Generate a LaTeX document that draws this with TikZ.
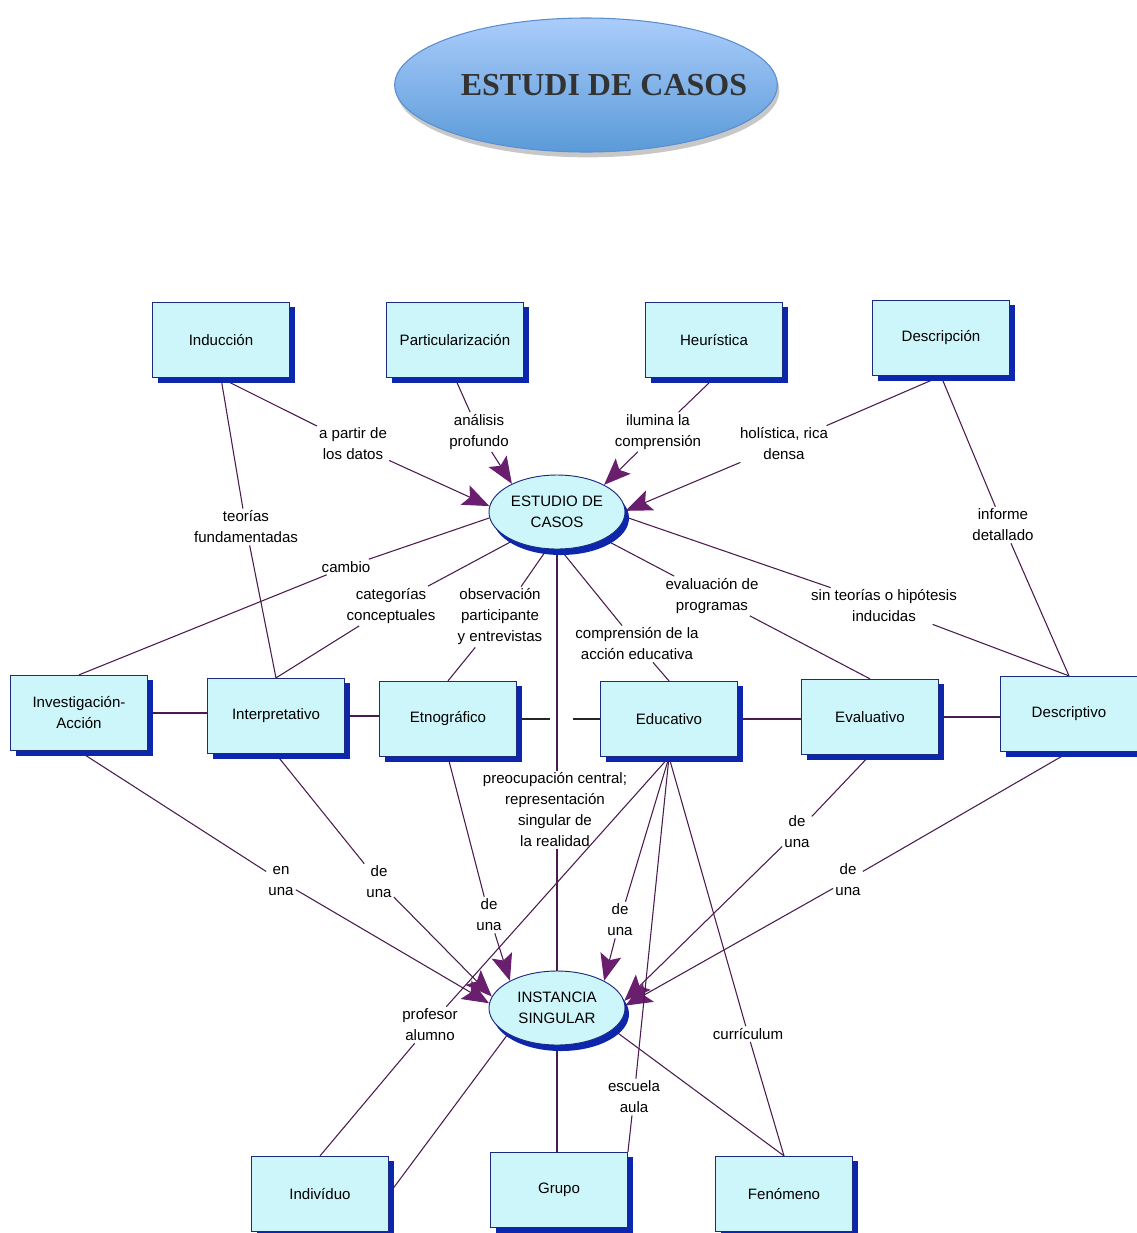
\documentclass[tikz,border=0pt]{standalone}
\usepackage{fontspec}
\setmainfont{Liberation Sans}
\newfontfamily\titlefont{Liberation Serif}
\usetikzlibrary{shapes.geometric,arrows.meta,shadows,backgrounds}

\definecolor{boxfill}{HTML}{CCF6FA}
\definecolor{boxline}{HTML}{1B2B80}
\definecolor{boxshadow}{HTML}{0C26AE}
\definecolor{linkc}{HTML}{4B1A4E}
\definecolor{arrowc}{HTML}{6A1F6E}
\definecolor{titletop}{HTML}{AACDFB}
\definecolor{titlebot}{HTML}{5A9AD8}
\definecolor{titleedge}{HTML}{5B8ED0}
\definecolor{titletext}{HTML}{333333}

\begin{document}
\begin{tikzpicture}[x=0.75pt,y=-0.75pt,
  every node/.style={font=\fontsize{11.3}{15.75}\selectfont},
  concept/.style={rectangle, draw=boxline, line width=0.7pt, fill=boxfill,
    minimum width=102.75pt, minimum height=56.5pt, align=center, inner sep=2pt,
    drop shadow={shadow xshift=3.75pt, shadow yshift=-3.75pt, fill=boxshadow, opacity=1}},
  focus/.style={ellipse, draw=boxline, line width=0.7pt, fill=boxfill,
    minimum width=102pt, minimum height=55.5pt, inner sep=0pt, align=center,
    drop shadow={shadow xshift=3pt, shadow yshift=-4.5pt, fill=boxshadow, opacity=1}},
  link/.style={align=center, inner sep=1.5pt},
  conn/.style={draw=linkc, line width=0.8pt},
  arr/.style={-{Stealth[length=20pt,width=16pt,inset=4pt,color=arrowc]}},
]
\useasboundingbox (0,0) rectangle (1137,1233);

% heading
\node[ellipse, draw=titleedge, line width=0.8pt, top color=titletop, bottom color=titlebot,
  minimum width=287pt, minimum height=100.5pt,
  drop shadow={shadow xshift=1.5pt, shadow yshift=-4pt, fill=black, opacity=0.22}]
  (titleshape) at (586,85) {};
\node[font=\titlefont\bfseries\fontsize{24}{28}\selectfont, text=titletext] (title) at (604,85) {ESTUDI DE CASOS};

% concepts, top row
\node[concept] (Ind)  at (221,340) {Inducción};
\node[concept] (Part) at (455,340) {Particularización};
\node[concept] (Heu)  at (714,340) {Heurística};
\node[concept] (Desc) at (941,338) {Descripción};

% central ellipses
\node[focus] (ES) at (557,512)  {ESTUDIO DE\\CASOS};
\node[focus] (IS) at (557,1008) {INSTANCIA\\SINGULAR};

% middle row
\node[concept] (InvAcc)  at (79,713)   {Investigación-\\Acción};
\node[concept] (Interp)  at (276,716)  {Interpretativo};
\node[concept] (Etno)    at (448,719)  {Etnográfico};
\node[concept] (Educ)    at (669,719)  {Educativo};
\node[concept] (Evalu)   at (870,717)  {Evaluativo};
\node[concept] (Descrip) at (1069,714) {Descriptivo};

% bottom row
\node[concept] (Indiv) at (320,1194) {Indivíduo};
\node[concept] (Grupo) at (559,1190) {Grupo};
\node[concept] (Fen)   at (784,1194) {Fenómeno};

% linking phrases
\node[link] (l1)  at (353,444)  {a partir de\\los datos};
\node[link] (l2)  at (479,432)  {análisis\\profundo};
\node[link] (l3)  at (658,432)  {ilumina la\\comprensión};
\node[link] (l4)  at (784,444)  {holística, rica\\densa};
\node[link] (l5)  at (246,527)  {teorías\\fundamentadas};
\node[link] (l6)  at (1003,525) {informe\\detallado};
\node[link] (l7)  at (346,567)  {cambio};
\node[link] (l8)  at (391,606)  {categorías\\conceptuales};
\node[link] (l9)  at (500,617)  {observación\\participante\\y entrevistas};
\node[link] (l10) at (637,644)  {comprensión de la\\acción educativa};
\node[link] (l11) at (712,596)  {evaluación de\\programas};
\node[link] (l12) at (884,606)  {sin teorías o hipótesis\\inducidas};
\node[link] (l13) at (555,810)  {preocupación central;\\representación\\singular de\\la realidad};
\node[link] (l14) at (281,881)  {en\\una};
\node[link] (l15) at (379,882)  {de\\una};
\node[link] (l16) at (489,915)  {de\\una};
\node[link] (l17) at (620,920)  {de\\una};
\node[link] (l18) at (797,832)  {de\\una};
\node[link] (l19) at (848,880)  {de\\una};
\node[link] (l20) at (430,1025) {profesor\\alumno};
\node[link] (l21) at (634,1097) {escuela\\aula};
\node[link] (l22) at (748,1034) {currículum};

\begin{scope}[on background layer]
  % top concepts into ESTUDIO DE CASOS
  \draw[conn] (Ind.south) -- (l1);   \draw[conn,arr] (l1) -- (ES.175);
  \draw[conn] (Part.south) -- (l2);  \draw[conn,arr] (l2) -- (ES.148);
  \draw[conn] (Heu.south) -- (l3);   \draw[conn,arr] (l3) -- (ES.30);
  \draw[conn] (Desc.south) -- (l4);  \draw[conn,arr] (l4) -- (ES.1);
  \draw[conn] (Ind.south) -- (l5);   \draw[conn] (l5) -- (Interp.north);
  \draw[conn] (Desc.south) -- (l6);  \draw[conn] (l6) -- (Descrip.north);

  % ESTUDIO DE CASOS to the types
  \draw[conn] (ES.185) -- (l7);  \draw[conn] (l7) -- (InvAcc.north);
  \draw[conn] (ES.213) -- (l8);  \draw[conn] (l8) -- (Interp.north);
  \draw[conn] (ES.255) -- (l9);  \draw[conn] (l9) -- (Etno.north);
  \draw[conn] (ES.275) -- (l10); \draw[conn] (l10) -- (Educ.north);
  \draw[conn] (ES.330) -- (l11); \draw[conn] (l11) -- (Evalu.north);
  \draw[conn] (ES.356) -- (l12); \draw[conn] (l12) -- (Descrip.north);
  \draw[conn] (ES.south) -- (ES.south |- l13.north);
  \draw[conn] (IS.north |- l13.south) -- (IS.north);

  % row of types
  \draw[conn] (InvAcc.east) -- (InvAcc.east -| Interp.west);
  \draw[conn] (Interp.east) -- (Interp.east -| Etno.west);
  \draw[draw=black!85, line width=0.8pt, dash pattern=on 24.75pt off 17.25pt on 40pt]
    (Etno.east) -- (Etno.east -| Educ.west);
  \draw[conn] (Educ.east) -- (Educ.east -| Evalu.west);
  \draw[conn] (Evalu.east) -- (Evalu.east -| Descrip.west);

  % types into INSTANCIA SINGULAR
  \draw[conn] (InvAcc.south) -- (l14);  \draw[conn,arr] (l14) -- (IS.176);
  \draw[conn] (Interp.south) -- (l15);  \draw[conn,arr] (l15) -- (IS.170);
  \draw[conn] (Etno.south) -- (l16);    \draw[conn,arr] (l16) -- (IS.150);
  \draw[conn] (Educ.south) -- (l17);    \draw[conn,arr] (l17) -- (IS.30);
  \draw[conn] (Evalu.south) -- (l18);   \draw[conn,arr] (l18) -- (IS.6);
  \draw[conn] (Descrip.south) -- (l19); \draw[conn,arr] (l19) -- (IS.2);

  % Educativo to the bottom concepts
  \draw[conn] (Educ.south) -- (l20); \draw[conn] (l20) -- (Indiv.north);
  \draw[conn] (Educ.south) -- (l21); \draw[conn] (l21) -- (Grupo.north east);
  \draw[conn] (Educ.south) -- (l22); \draw[conn] (l22) -- (Fen.north);

  % INSTANCIA SINGULAR to the bottom concepts
  \draw[conn] (IS.208) -- (Indiv.east);
  \draw[conn] (IS.south) -- (IS.south |- Grupo.north);
  \draw[conn] (IS.339) -- (Fen.north);
\end{scope}
\end{tikzpicture}
\end{document}
